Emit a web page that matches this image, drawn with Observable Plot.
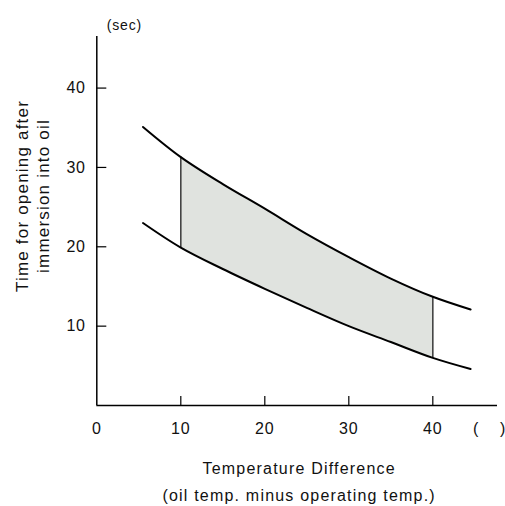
<!DOCTYPE html>
<html>
<head>
<meta charset="utf-8">
<script src="https://cdn.jsdelivr.net/npm/d3@7"></script>
<script src="https://cdn.jsdelivr.net/npm/@observablehq/plot@0.6"></script>
<style>
  html, body { margin: 0; padding: 0; background: #fff; }
  svg { display: block; }
</style>
</head>
<body>
<div id="chart"></div>
<script>
// Temperature difference (°C) at which curve points were read
const temps = [5.5, 10, 15, 20, 25, 30, 35, 40, 44.5];
// Upper bound of opening time (sec)
const upperTimes = [35.1, 31.3, 27.9, 24.8, 21.6, 18.7, 16.0, 13.7, 12.1];
// Lower bound of opening time (sec)
const lowerTimes = [23.0, 19.9, 17.2, 14.7, 12.3, 10.0, 8.0, 6.0, 4.6];
// Shaded band limits
const bandLimits = [10, 40];
// Ticks
const xTicks = [0, 10, 20, 30, 40];
const yTicks = [10, 20, 30, 40];
const xUnitPos = [46.75];
const xUnitLabel = "(    )";
const yUnit = "(sec)";
const xTitle = "Temperature Difference\n(oil temp. minus operating temp.)";
const yTitle = "Time for opening after\nimmersion into oil";

const rows = temps.map((t, i) => ({t, upper: upperTimes[i], lower: lowerTimes[i]}));
const band = rows.filter(d => d.t >= bandLimits[0] && d.t <= bandLimits[1]);
const edges = rows.filter(d => bandLimits.includes(d.t));

const font = "'Liberation Sans', Arial, Helvetica, sans-serif";
const W = 505, H = 506, mL = 96.3, mR = 8, mT = 36, mB = 101;
const yTickLen = 10;

const chart = Plot.plot({
  width: W,
  height: H,
  marginLeft: mL,
  marginRight: mR,
  marginTop: mT,
  marginBottom: mB,
  style: {fontFamily: font, fontSize: "16px", color: "#111", background: "#fff"},
  x: {domain: [0, 47.7], label: null},
  y: {domain: [0, 46.5], label: null},
  marks: [
    Plot.areaY(band, {x: "t", y1: "lower", y2: "upper", fill: "#e0e3df", curve: "catmull-rom"}),
    Plot.ruleX(edges, {x: "t", y1: "lower", y2: "upper", stroke: "#444", strokeWidth: 1.6}),
    Plot.line(rows, {x: "t", y: "upper", stroke: "#000", strokeWidth: 2, curve: "catmull-rom"}),
    Plot.line(rows, {x: "t", y: "lower", stroke: "#000", strokeWidth: 2, curve: "catmull-rom"}),
    Plot.ruleX([0], {stroke: "#000", strokeWidth: 1.5}),
    Plot.ruleY([0], {stroke: "#000", strokeWidth: 1.5}),
    Plot.axisX({ticks: xTicks.filter(d => d > 0), tickSize: 9, dy: -9, fill: "none", label: null, stroke: "#000", strokeWidth: 1.2}),
    Plot.axisX({ticks: xTicks, tickSize: 0, tickPadding: 17, fontSize: 16, label: null, tickFormat: d => String(d)}),
    Plot.axisX({ticks: xUnitPos, tickSize: 0, tickPadding: 17, fontSize: 16, label: null, tickFormat: () => xUnitLabel}),
    Plot.tickY(yTicks, {y: d => d, stroke: "#000", strokeWidth: 1.2, insetRight: W - mL - mR - yTickLen}),
    Plot.axisY({ticks: yTicks, tickSize: 0, tickPadding: 11, fontSize: 16, label: null, tickFormat: d => String(d)}),
    Plot.text([xTitle], {frameAnchor: "bottom", dx: 2, dy: 49, fontSize: 16, lineHeight: 1.7, lineAnchor: "top", className: "title"}),
    Plot.text([yTitle], {frameAnchor: "left", textAnchor: "middle", rotate: -90, dx: -65, dy: -25, fontSize: 17, lineHeight: 1.2, className: "title"}),
    Plot.text([yUnit], {frameAnchor: "top-left", dx: 10, dy: -16, fontSize: 14})
  ]
});
chart.querySelectorAll("text").forEach(t => t.setAttribute("letter-spacing", "0.8"));
chart.querySelectorAll("g.title text").forEach(t => t.setAttribute("letter-spacing", "1.2"));
document.getElementById("chart").appendChild(chart);
</script>
</body>
</html>
